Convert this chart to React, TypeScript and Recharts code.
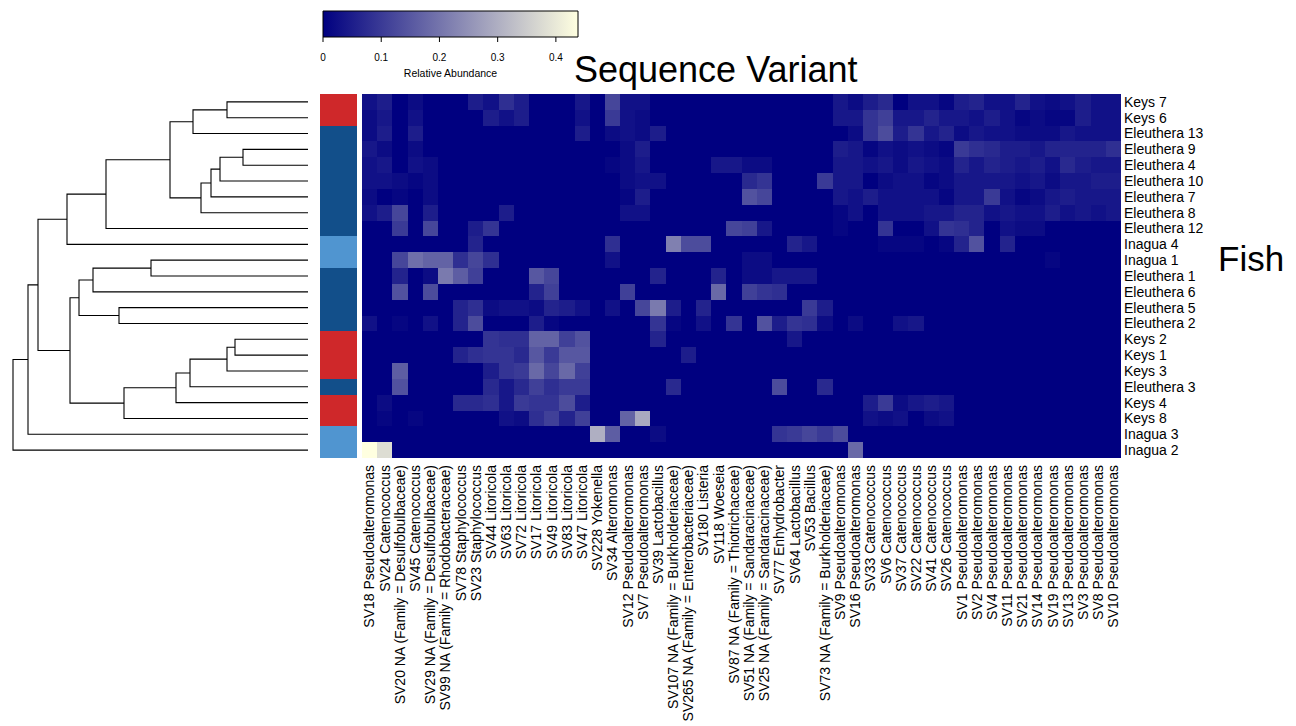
import {
  Bar,
  BarChart,
  Line,
  LineChart,
  Scatter,
  ScatterChart,
  XAxis,
  YAxis,
} from "recharts";

const W = 1296;
const H = 726;
const FONT = '"Liberation Sans", Arial, Helvetica, sans-serif';

const sequenceVariants = [
  "SV18 Pseudoalteromonas", "SV24 Catenococcus", "SV20 NA (Family = Desulfobulbaceae)",
  "SV45 Catenococcus", "SV29 NA (Family = Desulfobulbaceae)", "SV99 NA (Family = Rhodobacteraceae)",
  "SV78 Staphylococcus", "SV23 Staphylococcus", "SV44 Litoricola", "SV63 Litoricola",
  "SV72 Litoricola", "SV17 Litoricola", "SV49 Litoricola", "SV83 Litoricola", "SV47 Litoricola",
  "SV228 Yokenella", "SV34 Alteromonas", "SV12 Pseudoalteromonas", "SV7 Pseudoalteromonas",
  "SV39 Lactobacillus", "SV107 NA (Family = Burkholderiaceae)", "SV265 NA (Family = Enterobacteriaceae)",
  "SV180 Listeria", "SV118 Woeseia", "SV87 NA (Family = Thiotrichaceae)",
  "SV51 NA (Family = Sandaracinaceae)", "SV25 NA (Family = Sandaracinaceae)", "SV77 Enhydrobacter",
  "SV64 Lactobacillus", "SV53 Bacillus", "SV73 NA (Family = Burkholderiaceae)",
  "SV9 Pseudoalteromonas", "SV16 Pseudoalteromonas", "SV33 Catenococcus", "SV6 Catenococcus",
  "SV37 Catenococcus", "SV22 Catenococcus", "SV41 Catenococcus", "SV26 Catenococcus",
  "SV1 Pseudoalteromonas", "SV2 Pseudoalteromonas", "SV4 Pseudoalteromonas", "SV11 Pseudoalteromonas",
  "SV21 Pseudoalteromonas", "SV14 Pseudoalteromonas", "SV19 Pseudoalteromonas", "SV13 Pseudoalteromonas",
  "SV3 Pseudoalteromonas", "SV8 Pseudoalteromonas", "SV10 Pseudoalteromonas",
];

const fish = [
  "Keys 7", "Keys 6", "Eleuthera 13", "Eleuthera 9", "Eleuthera 4", "Eleuthera 10",
  "Eleuthera 7", "Eleuthera 8", "Eleuthera 12", "Inagua 4", "Inagua 1", "Eleuthera 1",
  "Eleuthera 6", "Eleuthera 5", "Eleuthera 2", "Keys 2", "Keys 1", "Keys 3",
  "Eleuthera 3", "Keys 4", "Keys 8", "Inagua 3", "Inagua 2",
];

const siteColors: Record<string, string> = {
  Keys: "#cf282a",
  Eleuthera: "#124f8a",
  Inagua: "#5095d0",
};

// relative abundance in percent, one row per fish, columns in sequenceVariants order
const abundancePct: number[][] = [
  [3,5,0,2,0,0,0,5,3,8, 5,0,0,0,4,0,12,3,3,0, 0,0,0,0,0,0,0,0,0,0, 0,4,2,5,7,0,3,3,1,5, 6,3,3,6,3,2,3,5,3,3],
  [2,4,0,3,0,0,0,0,5,3, 5,0,0,0,3,0,10,3,2,0, 0,0,0,0,0,0,0,0,0,0, 0,4,4,9,11,4,4,6,4,4, 3,5,3,1,2,1,1,5,3,3],
  [2,5,0,5,0,0,0,0,0,0, 0,0,0,0,5,0,2,3,2,5, 0,0,0,0,0,0,0,0,0,0, 0,0,2,9,13,5,9,4,6,2, 4,3,3,2,2,2,4,3,3,3],
  [4,2,0,2,0,0,0,0,0,0, 0,0,0,0,0,0,0,2,5,0, 0,0,0,0,0,0,0,0,0,0, 0,5,4,1,3,2,3,2,1,10, 8,7,5,5,4,6,6,6,6,8],
  [3,4,0,3,2,0,0,0,0,0, 0,0,0,0,0,0,1,2,4,0, 0,0,0,4,4,2,2,0,0,0, 0,4,4,3,4,2,4,3,2,6, 4,6,5,4,5,3,7,5,4,4],
  [3,3,2,1,2,0,0,0,0,0, 0,0,0,0,0,0,0,2,3,3, 0,0,0,0,0,7,9,0,0,0, 10,4,4,0,2,3,3,1,2,4, 4,4,4,3,4,2,4,4,5,5],
  [2,0,1,0,2,0,0,0,0,0, 0,0,0,0,0,0,0,1,5,0, 0,0,0,0,0,14,12,0,0,0, 0,4,3,5,3,3,3,3,1,4, 4,10,3,1,2,4,5,4,4,4],
  [3,5,12,0,5,0,0,0,0,5, 0,0,0,0,0,0,0,3,3,0, 0,0,0,0,0,0,0,0,0,0, 0,1,3,0,3,3,3,4,4,6, 6,3,4,3,3,5,3,4,3,4],
  [0,0,10,0,12,0,0,5,9,0, 0,0,0,0,0,0,0,0,0,0, 0,0,0,0,12,11,4,0,0,0, 0,1,0,0,9,0,0,3,9,8, 6,0,3,2,2,0,0,0,0,0],
  [0,0,0,0,0,0,0,6,0,0, 0,0,0,0,0,0,8,0,0,0, 22,13,13,0,0,0,0,0,6,4, 0,0,0,0,1,1,1,0,1,6, 14,0,6,0,0,0,0,0,0,0],
  [0,0,12,19,17,17,8,12,8,0, 0,0,0,0,0,0,3,0,0,0, 0,0,0,0,0,2,2,0,0,0, 0,0,0,0,0,0,0,0,0,0, 0,0,0,0,0,1,0,0,0,0],
  [0,0,6,0,2,21,16,11,0,0, 0,15,12,0,0,0,0,0,0,6, 0,0,0,6,0,2,2,4,4,4, 0,0,0,0,0,0,0,0,0,0, 0,0,0,0,0,0,0,0,0,0],
  [0,0,14,0,13,0,0,0,0,0, 0,6,11,0,0,0,0,11,0,0, 0,0,0,18,0,11,9,8,0,0, 0,0,0,0,0,0,0,0,0,0, 0,0,0,0,0,0,0,0,0,0],
  [0,0,0,0,0,0,6,8,2,3, 3,2,6,5,3,0,3,0,12,21, 5,0,6,0,0,0,0,0,0,10, 5,0,0,0,0,0,0,0,0,0, 0,0,0,0,0,0,0,0,0,0],
  [3,0,1,0,3,0,6,13,0,0, 0,5,1,0,0,0,0,0,0,9, 1,0,3,0,9,0,14,5,9,8, 2,0,2,0,0,3,4,0,0,0, 0,0,0,0,0,0,0,0,0,0],
  [0,0,0,0,0,0,0,0,9,8, 8,17,17,11,14,0,0,0,0,6, 0,0,0,0,0,0,0,0,4,0, 0,0,0,0,0,0,0,0,0,0, 0,0,0,0,0,0,0,0,0,0],
  [0,0,0,0,0,0,6,8,9,9, 7,15,10,15,15,0,0,0,0,0, 0,5,0,0,0,0,0,0,0,0, 0,0,0,0,0,0,0,0,0,0, 0,0,0,0,0,0,0,0,0,0],
  [0,0,16,0,0,0,0,0,5,9, 10,18,12,18,11,0,0,0,0,0, 0,0,0,0,0,0,0,0,0,0, 0,0,0,0,0,0,0,0,0,0, 0,0,0,0,0,0,0,0,0,0],
  [0,0,14,0,0,0,0,0,7,4, 7,11,8,10,10,0,0,0,0,0, 7,0,0,0,0,0,0,13,0,0, 7,0,0,0,0,0,0,0,0,0, 0,0,0,0,0,0,0,0,0,0],
  [0,2,0,0,0,0,7,7,8,4, 10,9,9,13,5,0,0,0,0,0, 0,0,0,0,0,0,0,0,0,0, 0,0,0,5,10,2,4,5,4,0, 0,0,0,0,0,0,0,0,0,0],
  [0,1,0,1,0,0,0,0,0,3, 2,8,11,6,11,0,0,17,29,0, 0,0,0,0,0,0,0,0,0,0, 0,0,0,3,2,3,0,2,3,0, 0,0,0,0,0,0,0,0,0,0],
  [0,0,0,0,0,0,0,0,0,0, 0,0,0,0,0,30,16,0,0,2, 0,0,0,0,0,0,0,9,10,12, 10,13,0,0,0,0,0,0,0,0, 0,0,0,0,0,0,0,0,0,0],
  [44,38,0,0,0,0,0,0,0,0, 0,0,0,0,0,0,0,0,0,0, 0,0,0,0,0,0,0,0,0,0, 0,0,18,0,0,0,0,0,0,0, 0,0,0,0,0,0,0,0,0,0],
];

// hclust-style merges: negative = fish row (1-based), positive = earlier merge; third = height
const merges: [number, number, number][] = [
  [-4, -5, 65], [-16, -17, 73], [-1, -2, 81], [2, -18, 81], [1, -6, 88],
  [5, -7, 97], [6, -8, 107], [3, -3, 115], [4, -19, 118], [9, -20, 132],
  [8, 7, 138], [-11, -12, 157], [10, -21, 184], [-14, -15, 189], [11, -9, 202],
  [12, -13, 215], [16, 14, 229], [17, 13, 238], [15, -10, 241], [19, 18, 270],
  [20, -22, 280], [21, -23, 295],
];

const colorbarTicks = [0, 0.1, 0.2, 0.3, 0.4];
const MAX_ABUND = 0.438;

// plot boxes
const HM = { left: 362, right: 1121, top: 94, bottom: 458 };
const SIDE = { left: 320, right: 357 };
const DEND = { left: 13, right: 308 };
const KEY = { left: 323, right: 578, top: 11, bottom: 37 };
const cellW = (HM.right - HM.left) / sequenceVariants.length;
const cellH = (HM.bottom - HM.top) / fish.length;

function abundColor(v: number) {
  const t = Math.max(0, Math.min(1, v / MAX_ABUND));
  const r = Math.round(255 * t);
  const b = Math.round(128 + 96 * t);
  return `rgb(${r},${r},${b})`;
}

const cells = abundancePct.flatMap((row, r) =>
  row.map((pct, c) => ({ x: c + 0.5, y: r + 0.5, v: pct / 100 }))
);
const sideCells = fish.map((name, r) => ({ x: 0.5, y: r + 0.5, site: name.split(" ")[0] }));
const colTicks = sequenceVariants.map((_, i) => i + 0.5);
const rowTicks = fish.map((_, i) => i + 0.5);

// dendrogram links built from the merge table
type Pt = { h: number; y: number };
const nodes: Pt[] = [];
const links: Pt[][] = [];
const nodeAt = (id: number): Pt => (id < 0 ? { h: 0, y: -id - 0.5 } : nodes[id - 1]);
merges.forEach(([a, b, h]) => {
  const pa = nodeAt(a);
  const pb = nodeAt(b);
  links.push([pa, { h, y: pa.y }, { h, y: pb.y }, pb]);
  nodes.push({ h, y: (pa.y + pb.y) / 2 });
});
const maxHeight = merges[merges.length - 1][2];

function ColumnTick(props: any) {
  const { x, y, payload } = props;
  const label = sequenceVariants[Math.floor(payload.value)];
  return (
    <text
      x={x}
      y={y}
      dy="0.35em"
      transform={`rotate(-90, ${x}, ${y})`}
      textAnchor="end"
      fontSize={14}
      fontFamily={FONT}
      fill="#000"
    >
      {label}
    </text>
  );
}

function RowTick(props: any) {
  const { x, y, payload } = props;
  return (
    <text x={x} y={y} dy="0.35em" textAnchor="start" fontSize={14} fontFamily={FONT} fill="#000">
      {fish[Math.floor(payload.value)]}
    </text>
  );
}

function HeatCell(props: any) {
  const { cx, cy, payload } = props;
  return (
    <rect
      x={cx - cellW / 2}
      y={cy - cellH / 2}
      width={cellW}
      height={cellH}
      fill={abundColor(payload.v)}
      shapeRendering="crispEdges"
    />
  );
}

function SideCell(props: any) {
  const { cx, cy, payload } = props;
  const w = SIDE.right - SIDE.left;
  return (
    <rect
      x={cx - w / 2}
      y={cy - cellH / 2}
      width={w}
      height={cellH}
      fill={siteColors[payload.site]}
      shapeRendering="crispEdges"
    />
  );
}

const layer: React.CSSProperties = { position: "absolute", left: 0, top: 0 };

export default function App() {
  return (
    <div style={{ position: "absolute", left: 0, top: 0, width: W, height: H, background: "#fff" }}>
      {/* heatmap */}
      <div style={layer}>
        <ScatterChart
          width={W}
          height={H}
          margin={{ top: HM.top, left: HM.left, right: W - HM.right - 60, bottom: H - HM.bottom - 260 }}
        >
          <XAxis
            type="number"
            dataKey="x"
            domain={[0, sequenceVariants.length]}
            ticks={colTicks}
            interval={0}
            tick={<ColumnTick />}
            tickLine={false}
            axisLine={false}
            tickSize={0}
            tickMargin={7}
            height={260}
          />
          <YAxis
            type="number"
            dataKey="y"
            domain={[0, fish.length]}
            reversed
            orientation="right"
            ticks={rowTicks}
            interval={0}
            tick={<RowTick />}
            tickLine={false}
            axisLine={false}
            tickSize={0}
            tickMargin={3}
            width={60}
          />
          <Scatter data={cells} shape={HeatCell} isAnimationActive={false} />
        </ScatterChart>
      </div>

      {/* site colour strip */}
      <div style={layer}>
        <ScatterChart
          width={W}
          height={H}
          margin={{ top: HM.top, left: SIDE.left, right: W - SIDE.right, bottom: H - HM.bottom }}
        >
          <XAxis type="number" dataKey="x" domain={[0, 1]} hide />
          <YAxis type="number" dataKey="y" domain={[0, fish.length]} reversed hide />
          <Scatter data={sideCells} shape={SideCell} isAnimationActive={false} />
        </ScatterChart>
      </div>

      {/* dendrogram */}
      <div style={layer}>
        <LineChart
          width={W}
          height={H}
          margin={{ top: HM.top, left: DEND.left, right: W - DEND.right, bottom: H - HM.bottom }}
        >
          <XAxis type="number" dataKey="h" domain={[0, maxHeight]} reversed hide />
          <YAxis type="number" domain={[0, fish.length]} reversed hide />
          {links.map((seg, i) => (
            <Line
              key={i}
              data={seg}
              dataKey="y"
              type="linear"
              stroke="#000"
              strokeWidth={1.1}
              dot={false}
              activeDot={false}
              isAnimationActive={false}
            />
          ))}
        </LineChart>
      </div>

      {/* colour key */}
      <div style={layer}>
        <BarChart
          width={W}
          height={H}
          layout="vertical"
          data={[{ name: "key", v: MAX_ABUND }]}
          barCategoryGap={0}
          margin={{ top: KEY.top, left: KEY.left, right: W - KEY.right, bottom: H - KEY.bottom - 42 }}
        >
          <defs>
            <linearGradient id="abundRamp" x1="0" x2="1" y1="0" y2="0">
              <stop offset="0" stopColor="#000080" />
              <stop offset="1" stopColor="#ffffe0" />
            </linearGradient>
          </defs>
          <XAxis
            type="number"
            dataKey="v"
            domain={[0, MAX_ABUND]}
            ticks={colorbarTicks}
            interval={0}
            axisLine={false}
            tickSize={5}
            tickMargin={12}
            tickLine={{ stroke: "#000" }}
            tick={{ fill: "#000", fontSize: 10, fontFamily: FONT }}
            height={42}
            label={{
              value: "Relative Abundance",
              position: "insideBottom",
              offset: 2,
              fontSize: 10.5,
              fontFamily: FONT,
              fill: "#000",
            }}
          />
          <YAxis type="category" dataKey="name" hide />
          <Bar
            dataKey="v"
            fill="url(#abundRamp)"
            stroke="#000"
            strokeWidth={1}
            isAnimationActive={false}
          />
        </BarChart>
      </div>

      {/* titles */}
      <svg width={W} height={H} style={{ ...layer, pointerEvents: "none" }}>
        <text x={574} y={82} fontSize={36} fontFamily={FONT} fill="#000">
          Sequence Variant
        </text>
        <text x={1218} y={271} fontSize={35} fontFamily={FONT} fill="#000">
          Fish
        </text>
      </svg>
    </div>
  );
}
